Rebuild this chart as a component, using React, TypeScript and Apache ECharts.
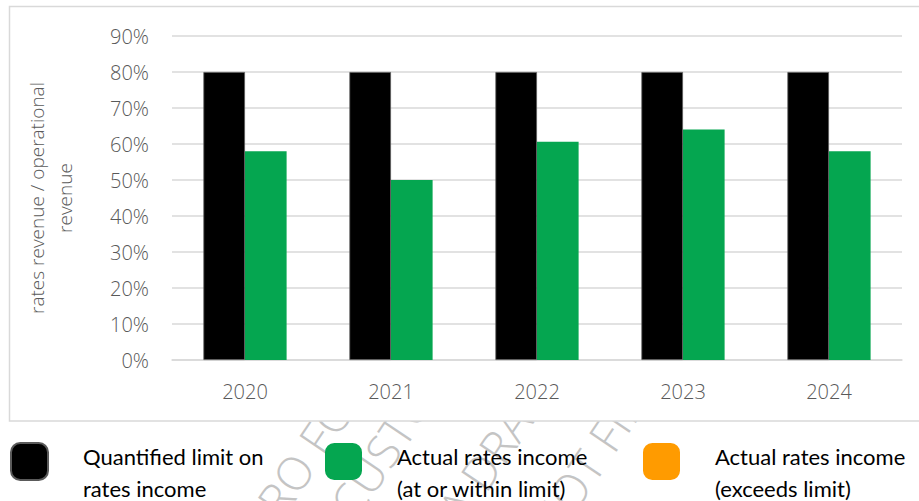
import React, { useEffect, useRef } from "react";
import * as echarts from "echarts";

const years = ["2020", "2021", "2022", "2023", "2024"];
const limitValues = [80, 80, 80, 80, 80];
const withinValues = [58, 50, 60.6, 64, 58];
const exceedsValues = [0, 0, 0, 0, 0];
const yTicks = { min: 0, max: 90, interval: 10 };
const seriesNames = [
  "Quantified limit on rates income",
  "Actual rates income (at or within limit)",
  "Actual rates income (exceeds limit)",
];
const legendLines: Record<string, string[]> = {
  "Quantified limit on rates income": ["Quantified limit on", "rates income"],
  "Actual rates income (at or within limit)": ["Actual rates income", "(at or within limit)"],
  "Actual rates income (exceeds limit)": ["Actual rates income", "(exceeds limit)"],
};
const watermarkWords = ["PRO FORMA", "CUSTOMER", "A DRAFT", "NOT FINAL"];

const COLORS = ["#000000", "#05a650", "#ff9b00"];
const FONT = "'Open Sans', Lato, sans-serif";
const LEG_FONT = "Lato, 'Open Sans', sans-serif";

export default function App() {
  const ref = useRef<HTMLDivElement>(null);
  useEffect(() => {
    if (!ref.current) return;
    const chart = echarts.init(ref.current, undefined, { renderer: "svg" });
    const wmPos = [
      [272, 545],
      [360, 525],
      [468, 530],
      [560, 545],
    ];
    const legendLeft = [10, 325, 643];
    chart.setOption({
      animation: false,
      textStyle: { fontFamily: FONT },
      graphic: [
        ...watermarkWords.map((w, i) => ({
          type: "text",
          x: wmPos[i][0],
          y: wmPos[i][1],
          rotation: 0.98,
          z: -10,
          silent: true,
          style: {
            text: w,
            fill: "#c4c4c4",
            font: "300 46px " + FONT,
            textAlign: "left",
            textVerticalAlign: "bottom",
          },
        })),
        {
          type: "rect",
          z: -5,
          silent: true,
          shape: { x: 9.5, y: 6.5, width: 915, height: 414.5 },
          style: { fill: "#ffffff", stroke: "#d9d9d9", lineWidth: 1.5 },
        },
      ],
      legend: seriesNames.map((n, i) => ({
        data: [n],
        left: legendLeft[i],
        top: 424.5,
        padding: 0,
        itemWidth: 37,
        itemHeight: 37,
        icon: "roundRect",
        selectedMode: false,
        formatter: (name: string) => {
          const l = legendLines[name] || [name, ""];
          return "{s| }\n{t|" + l[0] + "}\n{t|" + l[1] + "}";
        },
        textStyle: {
          fontFamily: LEG_FONT,
          fontSize: 22,
          color: "#000000",
          padding: [0, 0, 0, 30],
          rich: {
            s: { fontSize: 10, lineHeight: 22 },
            t: { fontFamily: LEG_FONT, fontSize: 22, lineHeight: 32, color: "#000000" },
          },
        },
      })),
      grid: { left: 172, right: 17, top: 36, bottom: 141, containLabel: false },
      xAxis: {
        type: "category",
        data: years,
        axisTick: { show: false },
        axisLine: { lineStyle: { color: "#d9d9d9", width: 1.5 } },
        axisLabel: { color: "#595959", fontSize: 20, fontWeight: 300, margin: 21, fontFamily: FONT },
      },
      yAxis: {
        type: "value",
        min: yTicks.min,
        max: yTicks.max,
        interval: yTicks.interval,
        name: "rates revenue / operational\nrevenue",
        nameLocation: "middle",
        nameGap: 93,
        nameTextStyle: { color: "#595959", fontSize: 19, fontWeight: 300, lineHeight: 28, fontFamily: FONT },
        axisLine: { show: false },
        axisTick: { show: false },
        axisLabel: { color: "#595959", fontSize: 20, fontWeight: 300, margin: 23, formatter: "{value}%", fontFamily: FONT },
        splitLine: { lineStyle: { color: "#d9d9d9", width: 1.5 } },
      },
      series: [
        {
          name: seriesNames[0],
          type: "bar",
          data: limitValues,
          barGap: "0%",
          barCategoryGap: "43%",
          itemStyle: { color: COLORS[0], borderColor: "#5a5a5a", borderWidth: 0.8 },
        },
        {
          name: seriesNames[1],
          type: "bar",
          stack: "actual",
          data: withinValues,
          itemStyle: { color: COLORS[1] },
        },
        {
          name: seriesNames[2],
          type: "bar",
          stack: "actual",
          data: exceedsValues,
          itemStyle: { color: COLORS[2] },
        },
      ],
    });
    return () => chart.dispose();
  }, []);
  return (
    <div
      ref={ref}
      style={{ position: "fixed", left: 0, top: 0, width: 919, height: 501, background: "#fff" }}
    />
  );
}
